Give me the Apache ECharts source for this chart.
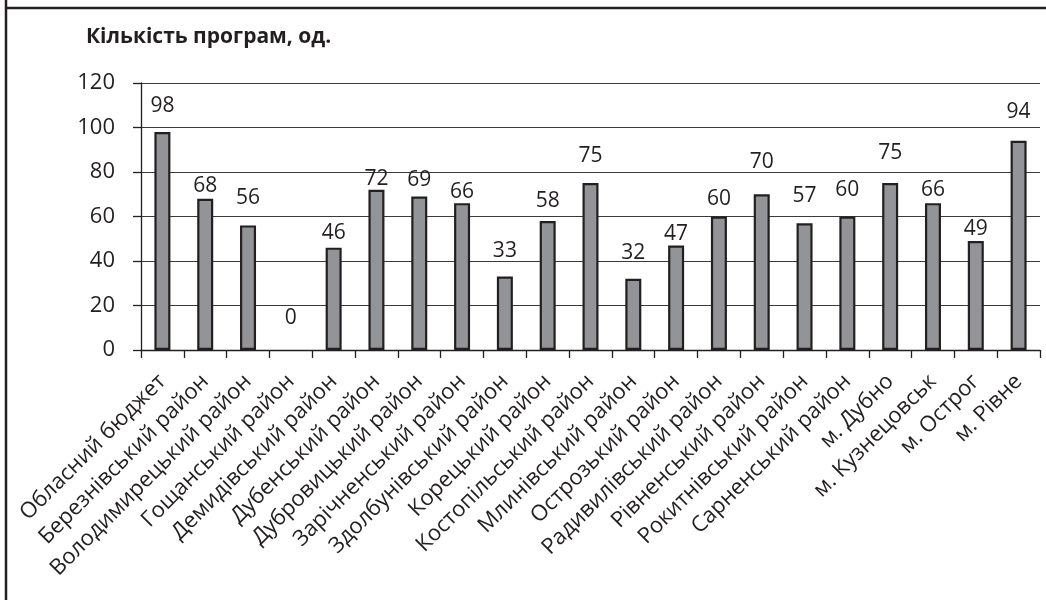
<!DOCTYPE html>
<html>
<head>
<meta charset="utf-8">
<script src="https://cdn.jsdelivr.net/npm/echarts@6/dist/echarts.min.js"></script>
<style>
html,body{margin:0;padding:0;background:#fff;}
#chart{width:1046px;height:600px;}
</style>
</head>
<body>
<div id="chart"></div>
<script>
const categories = [
  "Обласний бюджет","Березнівський район","Володимирецький район","Гощанський район",
  "Демидівський район","Дубенський район","Дубровицький район","Зарічненський район",
  "Здолбунівський район","Корецький район","Костопільський район","Млинівський район",
  "Острозький район","Радивилівський район","Рівненський район","Рокитнівський район",
  "Сарненський район","м. Дубно","м. Кузнецовськ","м. Острог","м. Рівне"
];
const values = [98,68,56,0,46,72,69,66,33,58,75,32,47,60,70,57,60,75,66,49,94];
const yTicks = [0,20,40,60,80,100,120];
const titleText = "Кількість програм, од.";

// label lift above each bar (styling only)
const labelLift = [26,13,28,32,15,11,17,12,26,20,28,26,12,18,33,28,27,31,14,12,29];

const ink = "#231f20";
const font = "'Open Sans', 'DejaVu Sans', sans-serif";

const chart = echarts.init(document.getElementById('chart'), null, {renderer:'canvas'});
chart.setOption({
  animation:false,
  backgroundColor:'#fff',
  title:{
    text:titleText, left:81, top:22,
    textStyle:{fontFamily:font, fontSize:21, fontWeight:'bold', color:ink}
  },
  grid:{left:141, right:6, top:83, bottom:250, containLabel:false},
  xAxis:{
    type:'category', data:categories,
    axisLine:{show:true, lineStyle:{color:ink, width:1.3}},
    axisTick:{show:true, length:8, alignWithLabel:false, lineStyle:{color:ink, width:1.3}},
    axisLabel:{rotate:45, interval:0, margin:28, fontFamily:font, fontSize:22, color:ink}
  },
  yAxis:{
    type:'value', min:yTicks[0], max:yTicks[yTicks.length-1], interval:20,
    axisLine:{show:true, lineStyle:{color:ink, width:1.3}},
    axisTick:{show:true, length:8, lineStyle:{color:ink, width:1.3}},
    splitLine:{show:true, lineStyle:{color:'#3a3a3a', width:1.2}},
    axisLabel:{margin:26, fontFamily:font, fontSize:22, color:ink}
  },
  series:[{
    type:'bar', barWidth:16,
    data: values.map((v,i)=>({
      value:v,
      itemStyle: v === 0 ? {borderWidth:0, color:'transparent'} : undefined,
      label:{distance:Math.max(0, labelLift[i]-11)}
    })),
    itemStyle:{color:'#929497', borderColor:ink, borderWidth:2.2},
    label:{show:true, position:'top', fontFamily:font, fontSize:21, color:ink}
  }],
  graphic:[
    {type:'line', shape:{x1:6, y1:0, x2:6, y2:600}, style:{stroke:ink, lineWidth:2.5}, z:100, silent:true},
    {type:'line', shape:{x1:6, y1:8, x2:1046, y2:8}, style:{stroke:ink, lineWidth:2.5}, z:100, silent:true}
  ]
});
</script>
</body>
</html>
